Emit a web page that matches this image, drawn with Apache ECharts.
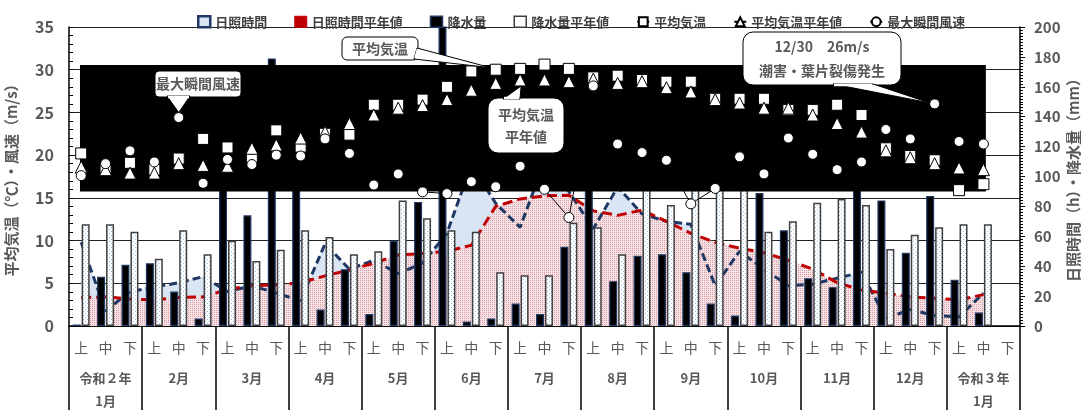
<!DOCTYPE html>
<html>
<head>
<meta charset="utf-8">
<script src="https://cdn.jsdelivr.net/npm/echarts@6/dist/echarts.min.js"></script>
<style>
  html, body { margin: 0; padding: 0; background: #fff; }
  #chart { width: 1082px; height: 410px; }
</style>
</head>
<body>
<div id="chart"></div>
<script>
// 旬別気象経過（令和２年１月上旬〜令和３年１月中旬）
const months = ['令和２年\n1月', '2月', '3月', '4月', '5月', '6月', '7月', '8月', '9月', '10月', '11月', '12月', '令和３年\n1月'];
const dekadNames = ['上', '中', '下'];
const dekads = months.flatMap(() => dekadNames);

// 日照時間 (h)
const sunshine = [56, 10, 23, 26, 29, 33, 23, 27, 22, 17, 55, 38, 44, 35, 42, 62, 108, 82, 66, 110, 90, 65, 93, 75, 70, 68, 27, 50, 38, 27, 28, 32, 36, 5, 11, 7, 6, 22, null];
// 日照時間平年値 (h)
const sunshineNormal = [19, 19.5, 18, 17.5, 19, 19.5, 24.5, 27, 27.5, 29, 33.5, 37.5, 42, 47.5, 48.5, 50, 54, 80, 85, 87, 87.5, 77, 74, 77.5, 70, 62, 56, 52, 49, 44, 38, 29, 24, 22, 19.5, 18.5, 17.5, 21, null];
// 降水量 (mm)
const precip = [1, 33, 41, 42, 23, 5, 130, 74, 179, 120, 11, 38, 8, 57, 83, 210, 3, 5, 15, 8, 53, 110, 30, 47, 48, 36, 15, 7, 89, 64, 32, 26, 100, 84, 49, 87, 31, 9, null];
// 降水量平年値 (mm)
const precipNormal = [68, 68, 63, 45, 64, 48, 57, 43.5, 51, 64, 59.5, 48, 50, 84, 72, 64, 63, 36, 34, 34, 69, 66, 48, 100, 81, 105, 110, 95, 63, 70, 82.5, 85, 81, 51.5, 61, 66, 68, 68, null];
// 平均気温 (℃)
const temp = [20.2, 18.2, 19.1, 18.3, 19.6, 21.9, 20.9, 19.8, 22.9, 21.0, 22.5, 22.4, 25.9, 25.9, 26.5, 28.0, 29.8, 30.0, 30.1, 30.6, 30.1, 29.1, 29.3, 28.8, 28.6, 28.6, 26.6, 26.6, 26.6, 25.3, 25.3, 25.9, 24.7, 20.8, 19.9, 19.4, 15.9, 16.6, null];
// 平均気温平年値 (℃)
const tempNormal = [18.6, 18.3, 17.9, 17.9, 19.0, 18.8, 18.7, 20.8, 21.2, 22.0, 22.7, 23.7, 24.7, 25.5, 25.8, 26.5, 27.6, 28.4, 28.8, 28.8, 28.6, 28.9, 28.4, 28.6, 27.9, 27.4, 26.5, 26.1, 25.5, 25.5, 24.7, 23.7, 22.7, 20.5, 19.7, 19.0, 18.5, 18.3, null];
// 最大瞬間風速 (m/s)
const gust = [17.6, 19.0, 20.5, 19.2, 24.4, 16.7, 19.5, 18.9, 20.0, 19.9, 21.9, 20.2, 16.5, 17.8, 15.7, 15.5, 16.9, 16.3, 18.7, 16.0, 12.7, 28.1, 21.3, 20.3, 19.4, 14.3, 16.1, 19.8, 17.8, 22.0, 20.1, 18.3, 19.2, 23.0, 21.9, 26, 21.6, 21.3, null];

const FONT = "'Noto Sans CJK JP', 'Noto Sans', sans-serif";
const GREY = '#595959';

function dotPattern(size, bg, dots, dotColor) {
  const c = document.createElement('canvas');
  c.width = c.height = size;
  const g = c.getContext('2d');
  g.fillStyle = bg;
  g.fillRect(0, 0, size, size);
  g.fillStyle = dotColor;
  dots.forEach(([x, y]) => g.fillRect(x, y, 1, 1));
  return { image: c, repeat: 'repeat' };
}
const pinkFill = dotPattern(2, '#f6e3e6', [[0, 0]], '#dc9aa3');
const blueDots = dotPattern(4, '#ffffff', [[1, 1], [3, 3]], '#94bde6');

const chart = echarts.init(document.getElementById('chart'), null, { renderer: 'canvas' });

const option = {
  animation: false,
  backgroundColor: '#fff',
  textStyle: { fontFamily: FONT },
  grid: { left: 69, right: 62, top: 27, bottom: 84, outerBoundsMode: 'none', containLabel: false },
  legend: {
    top: 10, left: 192, itemWidth: 12, itemHeight: 11, itemGap: 27,
    textStyle: { fontSize: 13, color: '#404040', fontWeight: 'bold', fontFamily: FONT },
    data: [
      { name: '日照時間', icon: 'rect', itemStyle: { color: '#dae5f4', borderColor: '#1f3864', borderWidth: 2.5 } },
      { name: '日照時間平年値', icon: 'rect', itemStyle: { color: '#c00000', borderColor: '#c00000', borderWidth: 1 } },
      { name: '降水量', icon: 'rect', itemStyle: { color: '#000', borderColor: '#1f3864', borderWidth: 1.5 } },
      { name: '降水量平年値', icon: 'rect', itemStyle: { color: '#fff', borderColor: '#404040', borderWidth: 1.5 } },
      { name: '平均気温' },
      { name: '平均気温平年値' },
      { name: '最大瞬間風速' }
    ]
  },
  xAxis: [
    {
      type: 'category', data: dekads, gridIndex: 0, position: 'bottom',
      axisLine: { lineStyle: { color: '#000', width: 1.5 } },
      axisTick: { show: false },
      axisLabel: { interval: 0, margin: 15, fontSize: 14, color: GREY, fontFamily: FONT }
    },
    {
      type: 'category', data: months, gridIndex: 0, position: 'bottom',
      axisLine: { show: false },
      axisTick: { show: true, interval: 0, length: 84, lineStyle: { color: '#000', width: 1.5 } },
      axisLabel: { interval: 0, margin: 41, fontSize: 13, fontWeight: 'bold', color: GREY, lineHeight: 23, fontFamily: FONT }
    }
  ],
  yAxis: [
    {
      type: 'value', min: 0, max: 35, interval: 5, position: 'left',
      name: '平均気温（℃）・風速（m/s）', nameLocation: 'middle', nameRotate: 90, nameGap: 50,
      nameMoveOverlap: false,
      nameTextStyle: { fontSize: 15, fontWeight: 'bold', color: GREY, fontFamily: FONT },
      axisLine: { show: true, lineStyle: { color: '#000', width: 1.5 } },
      axisTick: { show: true, inside: true, length: 4, lineStyle: { color: '#000' } },
      minorTick: { show: true, splitNumber: 5, length: 4, lineStyle: { color: '#000' } },
      axisLabel: { fontSize: 16, fontWeight: 'bold', color: GREY, margin: 15, fontFamily: FONT },
      splitLine: { show: true, lineStyle: { color: '#222', width: 1.2 } }
    },
    {
      type: 'value', min: 0, max: 200, interval: 20, position: 'right',
      name: '日照時間（h）・降水量（mm）', nameLocation: 'middle', nameRotate: 90, nameGap: 46,
      nameMoveOverlap: false,
      nameTextStyle: { fontSize: 15, fontWeight: 'bold', color: GREY, fontFamily: FONT },
      axisLine: { show: true, lineStyle: { color: '#000', width: 1.5 } },
      axisTick: { show: true, length: 5, lineStyle: { color: '#000' } },
      minorTick: { show: true, splitNumber: 10, length: 3, lineStyle: { color: '#000' } },
      axisLabel: { fontSize: 15, fontWeight: 'bold', color: GREY, margin: 14, fontFamily: FONT },
      splitLine: { show: false }
    }
  ],
  series: [
    {
      name: '日照時間', type: 'line', yAxisIndex: 1, data: sunshine, z: 1,
      symbol: 'none', lineStyle: { width: 0, opacity: 0 },
      areaStyle: { color: '#dae5f4', opacity: 1 }, silent: true
    },
    {
      name: '日照時間平年値', type: 'line', yAxisIndex: 1, data: sunshineNormal, z: 1,
      symbol: 'none', lineStyle: { width: 0, opacity: 0 },
      areaStyle: { color: pinkFill, opacity: 1 }, silent: true
    },
    {
      name: '日照時間', type: 'line', yAxisIndex: 1, data: sunshine, z: 1,
      symbol: 'none', lineStyle: { color: '#1f3864', width: 3, type: [8, 4] }
    },
    {
      name: '日照時間平年値', type: 'line', yAxisIndex: 1, data: sunshineNormal, z: 1,
      symbol: 'none', lineStyle: { color: '#c00000', width: 3, type: [10, 5] }
    },
    {
      name: '降水量', type: 'bar', yAxisIndex: 1, data: precip, z: 2,
      barWidth: 8, barGap: '12%',
      itemStyle: { color: '#000', borderColor: '#1f3864', borderWidth: 1.2 }
    },
    {
      name: '降水量平年値', type: 'bar', yAxisIndex: 1, data: precipNormal, z: 2,
      barWidth: 8, barGap: '12%',
      itemStyle: { color: blueDots, borderColor: '#404040', borderWidth: 1.5 }
    },
    {
      // 気温・風速の表示帯（黒地）
      type: 'custom', yAxisIndex: 0, z: 3, silent: true,
      data: [[0, 0]],
      renderItem(params, api) {
        const band = api.size([1, 0])[0];
        const a = api.coord([0, 30.55]);
        const b = api.coord([37, 15.74]);
        return {
          type: 'rect',
          shape: { x: a[0] - 0.05 * band, y: a[1], width: b[0] - a[0] + 0.15 * band, height: b[1] - a[1] },
          style: { fill: '#000' }
        };
      }
    },
    {
      name: '平均気温', type: 'line', yAxisIndex: 0, data: temp, z: 4,
      symbol: 'rect', symbolSize: 11, showAllSymbol: true,
      lineStyle: { color: '#000', width: 1 },
      itemStyle: { color: '#fff', borderColor: '#000', borderWidth: 1 }
    },
    {
      name: '平均気温平年値', type: 'line', yAxisIndex: 0, data: tempNormal, z: 4,
      symbol: 'triangle', symbolSize: 12, showAllSymbol: true,
      lineStyle: { color: '#000', width: 1 },
      itemStyle: { color: '#fff', borderColor: '#000', borderWidth: 1 }
    },
    {
      name: '最大瞬間風速', type: 'line', yAxisIndex: 0, data: gust, z: 4,
      symbol: 'circle', symbolSize: 10, showAllSymbol: true,
      lineStyle: { color: '#000', width: 1 },
      itemStyle: { color: '#fff', borderColor: '#000', borderWidth: 1 }
    }
  ]
};

chart.setOption(option);

// 吹き出し
const TEMP_SERIES = 7, NORMAL_SERIES = 8, GUST_SERIES = 9;
const at = (seriesIndex, i, v) => chart.convertToPixel({ seriesIndex }, [i, v]);

function callout(o) {
  const [x, y, w, h] = o.box;
  const stroke = o.stroke || '#000';
  return [
    { type: 'rect', z: 100, silent: true, shape: { x, y, width: w, height: h, r: o.r }, style: { fill: '#fff', stroke, lineWidth: 1 } },
    { type: 'polygon', z: 101, silent: true, shape: { points: [o.base[0], o.base[1], o.tip] }, style: { fill: '#fff', stroke, lineWidth: 1 } },
    { type: 'line', z: 102, silent: true, shape: { x1: o.seam[0][0], y1: o.seam[0][1], x2: o.seam[1][0], y2: o.seam[1][1] }, style: { stroke: '#fff', lineWidth: 2.5 } },
    {
      type: 'text', z: 103, silent: true,
      style: {
        text: o.text, x: x + w / 2, y: y + h / 2, align: 'center', verticalAlign: 'middle',
        fill: GREY, lineHeight: o.lineHeight || 18, fontSize: 14, fontWeight: 'bold', fontFamily: FONT
      }
    }
  ];
}

function drawCallouts() {
  const g4 = at(GUST_SERIES, 4, gust[4]);
  const t17 = at(TEMP_SERIES, 17, temp[17]);
  const n18 = at(NORMAL_SERIES, 18, tempNormal[18]);
  const g35 = at(GUST_SERIES, 35, gust[35]);
  chart.setOption({
    graphic: [].concat(
      callout({
        box: [155, 71, 86, 26], r: 4, text: '最大瞬間風速',
        base: [[167, 96], [190, 96]], seam: [[168, 97], [189, 97]],
        tip: [g4[0], g4[1] - 5]
      }),
      callout({
        box: [342, 37, 76, 23], r: 5, text: '平均気温',
        base: [[417, 48], [414, 59]], seam: [[418, 49], [415.5, 58]],
        tip: [t17[0] - 5, t17[1] - 2]
      }),
      callout({
        box: [488, 98, 76, 55], r: 10, text: '平均気温\n平年値', lineHeight: 22,
        base: [[503, 99], [520, 99]], seam: [[504, 98], [519, 98]],
        tip: [n18[0] + 1, n18[1] + 6]
      }),
      callout({
        box: [743, 32, 158, 53], r: 10, text: '12/30　26m/s\n潮害・葉片裂傷発生', lineHeight: 24,
        base: [[833, 84], [873, 84]], seam: [[834, 85], [872, 85]],
        tip: [g35[0] - 5, g35[1] - 1]
      })
    )
  });
}
drawCallouts();
</script>
</body>
</html>
